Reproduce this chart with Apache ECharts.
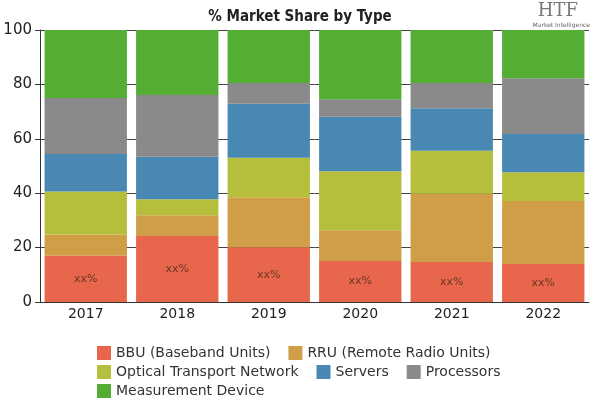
<!DOCTYPE html>
<html><head><meta charset="utf-8">
<script src="https://cdn.jsdelivr.net/npm/echarts@6/dist/echarts.min.js"></script>
<style>html,body{margin:0;padding:0;background:#fff}#c{width:600px;height:400px}</style>
</head><body><div id="c"></div>
<script>
const categories = ['2017','2018','2019','2020','2021','2022'];
const seriesNames = ['BBU (Baseband Units)','RRU (Remote Radio Units)','Optical Transport Network','Servers','Processors','Measurement Device'];
const bbu = [17.0, 24.3, 20.1, 15.1, 14.7, 14.0];
const rru = [7.8, 7.6, 18.4, 11.3, 25.1, 23.1];
const otn = [15.8, 5.9, 14.5, 21.7, 15.8, 10.6];
const servers = [13.8, 15.6, 19.9, 20.0, 15.6, 14.1];
const processors = [20.6, 22.7, 7.6, 6.4, 9.3, 20.5];
const measurement = [25.0, 23.9, 19.5, 25.5, 19.5, 17.7];
const yTicks = [0, 20, 40, 60, 80, 100];
const colors = ['#e8674c','#cf9e46','#b6bf3b','#4a88b4','#8a8a8a','#53ae33'];
const dataSets = [bbu, rru, otn, servers, processors, measurement];
const legendRows = [[0, 1], [2, 3, 4], [5]];

const chart = echarts.init(document.getElementById('c'));
const font = 'DejaVu Sans';
chart.setOption({
  animation: false,
  color: colors,
  title: {
    text: '% Market Share by Type', left: 'center', top: 5,
    textStyle: {fontFamily: 'DejaVu Sans Condensed', fontWeight: 'bold', fontSize: 15, color: '#222'}
  },
  graphic: [
    {type: 'text', right: 22, top: 2, style: {text: 'HTF', font: '18px "DejaVu Serif"', fill: '#777'}},
    {type: 'text', right: 10, top: 22, style: {text: 'Market Intelligence', font: '6px "DejaVu Sans"', fill: '#666'}}
  ],
  grid: {left: 40, right: 11, top: 30, bottom: 98},
  legend: legendRows.map((row, r) => ({
    left: 92, top: 341 + r * 19, itemWidth: 14, itemHeight: 14, itemGap: 18,
    icon: 'rect', orient: 'horizontal',
    textStyle: {fontFamily: font, fontSize: 14, color: '#333'},
    data: row.map(i => seriesNames[i])
  })),
  xAxis: {
    type: 'category', data: categories,
    axisLine: {lineStyle: {color: '#333'}},
    axisTick: {alignWithLabel: true, lineStyle: {color: '#333'}},
    axisLabel: {fontFamily: font, fontSize: 14, color: '#222', margin: 5}
  },
  yAxis: {
    type: 'value', min: yTicks[0], max: yTicks[yTicks.length-1], interval: 20,
    axisLine: {show: true, lineStyle: {color: '#333'}},
    axisTick: {show: true, length: 5, lineStyle: {color: '#333'}},
    axisLabel: {fontFamily: font, fontSize: 15, color: '#222', margin: 8},
    splitLine: {lineStyle: {color: '#444'}}
  },
  series: dataSets.map((d, i) => ({
    name: seriesNames[i], type: 'bar', stack: 'total', data: d,
    barCategoryGap: '10%',
    label: i === 0 ? {show: true, position: 'inside', formatter: 'xx%', color: '#6b3526', fontFamily: font, fontSize: 11} : {show: false}
  }))
});
</script></body></html>
